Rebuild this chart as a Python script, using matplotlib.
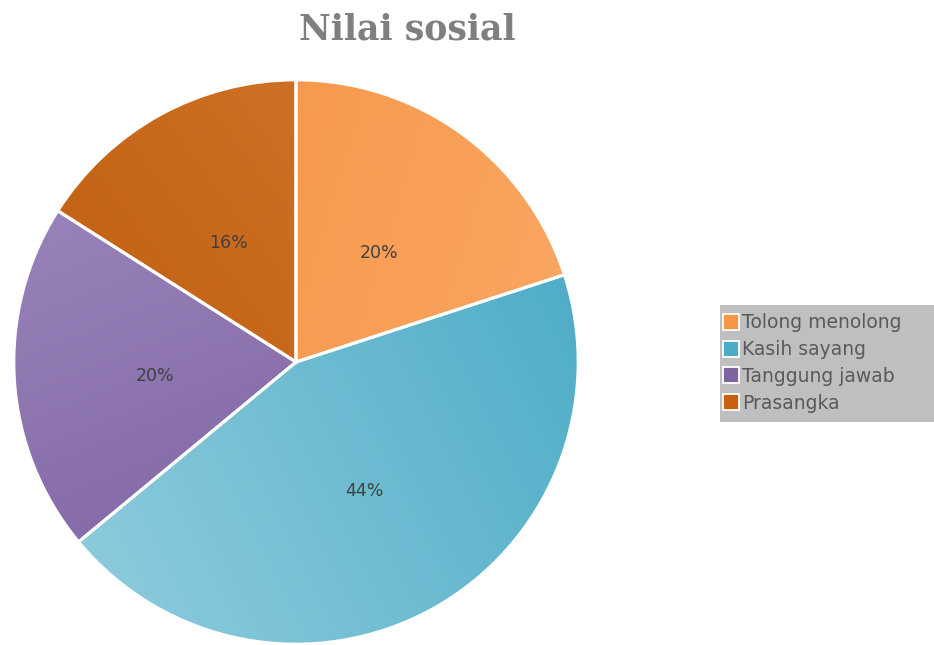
import numpy as np
import matplotlib.pyplot as plt
from matplotlib.lines import Line2D
from matplotlib.patches import Wedge, Rectangle
from matplotlib.colors import LinearSegmentedColormap

# data
labels = ['Tolong menolong', 'Kasih sayang', 'Tanggung jawab', 'Prasangka']
values = [20, 44, 20, 16]
colors = ['#f79646', '#4bacc6', '#8064a2', '#c8600f']
# gradient (light end, dark end) and direction of the light end
grad_light = ['#fba968', '#96d0e0', '#a08cc0', '#d87a30']
grad_dark = ['#f4903c', '#46a8c4', '#76589a', '#b85606']
grad_dir = [(1.0, -0.3), (-1.0, -0.5), (-0.4, 1.0), (0.8, 0.6)]

fig = plt.figure(figsize=(9.34, 6.45), dpi=100)
ax = fig.add_axes([11/934, -2/645, 570/934, 570/645])

wedges, texts, autotexts = ax.pie(
    values, colors=colors, startangle=90, counterclock=False,
    autopct='%1.0f%%', pctdistance=0.5,
    wedgeprops=dict(edgecolor='none', linewidth=0),
    textprops=dict(color='#404040', fontsize=12.5))

# gradient fill clipped to each wedge
xx, yy = np.meshgrid(np.linspace(-1, 1, 300), np.linspace(-1, 1, 300))
for w, lc, dc, d in zip(wedges, grad_light, grad_dark, grad_dir):
    d = np.array(d) / np.hypot(*d)
    t = (xx * d[0] + yy * d[1] + 1) / 2
    cmap = LinearSegmentedColormap.from_list('g', [dc, lc])
    im = ax.imshow(t, cmap=cmap, extent=[-1, 1, -1, 1], origin='lower',
                   zorder=2, interpolation='bilinear')
    im.set_clip_path(w)
# white borders drawn over the gradients
for w in wedges:
    ax.add_patch(Wedge(w.center, w.r, w.theta1, w.theta2, fill=False,
                       edgecolor='white', linewidth=2.2, zorder=5))
for t in autotexts:
    x, y = t.get_position()
    t.set_position((x, y - 0.018))
    t.set_zorder(6)
ax.set_xlim(-1.01, 1.01)
ax.set_ylim(-1.01, 1.01)
ax.set_aspect('equal')
ax.axis('off')

fig.text(407/934, 1 - 30/645, 'Nilai sosial', ha='center', va='center',
         fontsize=25, fontweight='bold', color='#7f7f7f',
         family='DejaVu Serif')

# legend background reaches the right edge of the picture
fig.patches.append(Rectangle((720/934, 1 - 422/645), 214/934, 117/645,
                             transform=fig.transFigure, facecolor='#bfbfbf',
                             edgecolor='none', zorder=0))
handles = [Line2D([], [], marker='s', linestyle='none', markersize=11,
                  markerfacecolor=c, markeredgecolor='white', markeredgewidth=1.3)
           for c in colors]
leg = fig.legend(handles, labels, loc='center left',
                 bbox_to_anchor=(717/934, 1 - 363/645),
                 frameon=False, fontsize=13.5,
                 labelspacing=0.42, handletextpad=0.05, handlelength=1.1,
                 borderpad=0.2, borderaxespad=0)
for t in leg.get_texts():
    t.set_color('#595959')

fig.savefig('out.png', dpi=100)
